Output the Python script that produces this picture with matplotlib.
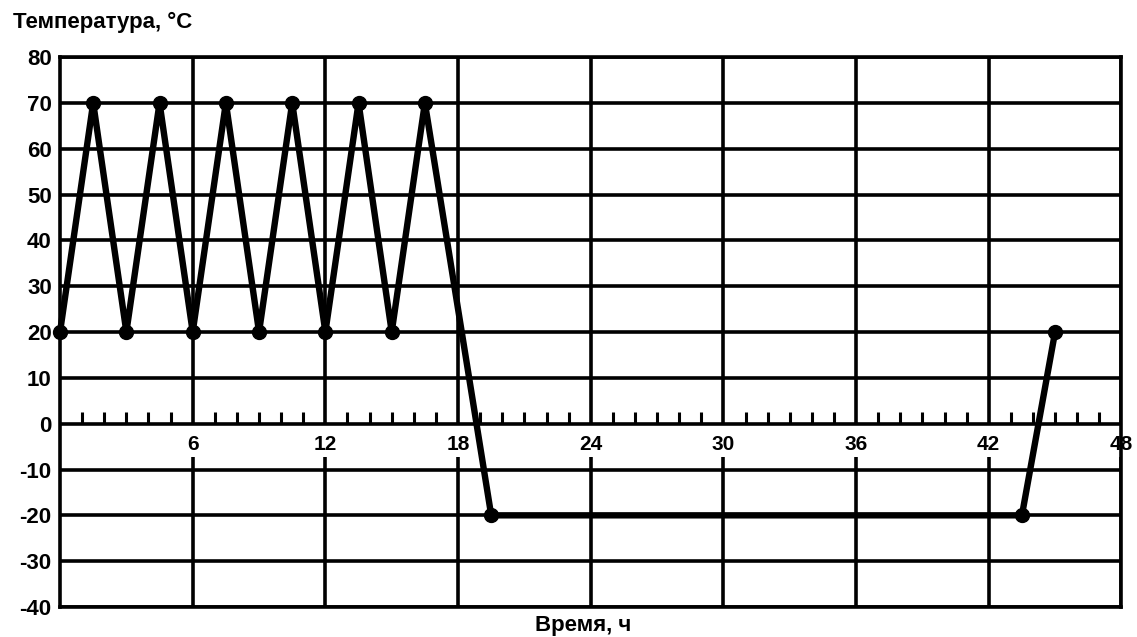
import numpy as np
import matplotlib.pyplot as plt

# данные цикла: время, ч / температура, °C
hours = [0, 1.5, 3, 4.5, 6, 7.5, 9, 10.5, 12, 13.5, 15, 16.5, 19.5, 43.5, 45]
temps = [20, 70, 20, 70, 20, 70, 20, 70, 20, 70, 20, 70, -20, -20, 20]

y_ticks = [80, 70, 60, 50, 40, 30, 20, 10, 0, -10, -20, -30, -40]
x_major = [6, 12, 18, 24, 30, 36, 42, 48]

plt.rcParams['font.family'] = ['Liberation Sans Narrow', 'Liberation Sans', 'DejaVu Sans']

fig = plt.figure(figsize=(11.37, 6.37), dpi=100)
ax = fig.add_axes([0.0528, 0.0471, 0.9335, 0.8634])
ax.set_xlim(0, 48)
ax.set_ylim(-40, 80)

# горизонтальная сетка
for y in y_ticks:
    ax.axhline(y, color='black', lw=2.6, zorder=1)
# вертикальная сетка с разрывом под подписями
for x in x_major:
    ax.vlines(x, 0, 80, color='black', lw=2.6, zorder=1)
    ax.vlines(x, -40, -7.3, color='black', lw=2.6, zorder=1)
    ax.text(x, -4.5, str(x), ha='center', va='center', fontsize=15,
            fontweight='bold', clip_on=False, zorder=2)
# мелкие риски на оси времени
minor = [h for h in range(1, 48) if h % 6 != 0]
ax.vlines(minor, 0, 2.5, color='black', lw=2.2, zorder=1)

ax.plot(hours, temps, color='black', lw=4.6, marker='o', markersize=10,
        zorder=3, clip_on=False)

ax.set_yticks(y_ticks)
ax.set_yticklabels([str(v) for v in y_ticks], fontsize=16, fontweight='bold')
ax.set_xticks([])
ax.tick_params(axis='y', length=0, pad=6)
for s in ax.spines.values():
    s.set_linewidth(2.6)

fig.text(0.011, 0.965, 'Температура, °C', fontsize=16, fontweight='bold',
         ha='left', va='center')
fig.text(0.513, 0.018, 'Время, ч', fontsize=16, fontweight='bold',
         ha='center', va='center')

plt.savefig('out.png', dpi=100)
